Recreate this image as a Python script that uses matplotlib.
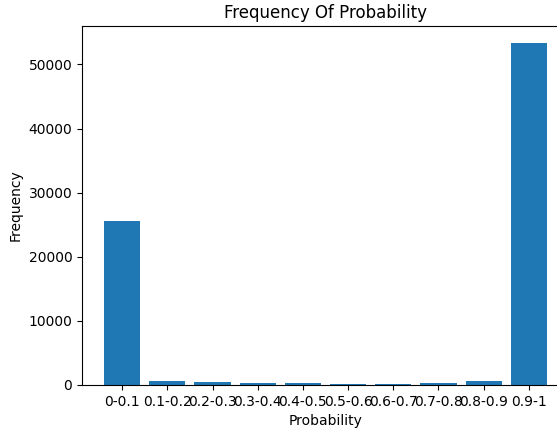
import numpy as np
import matplotlib
matplotlib.use('Agg')
import matplotlib.pyplot as plt

# probability bins and how many samples fell in each
bins = ['0-0.1', '0.1-0.2', '0.2-0.3', '0.3-0.4', '0.4-0.5',
        '0.5-0.6', '0.6-0.7', '0.7-0.8', '0.8-0.9', '0.9-1']
counts = [25600, 700, 400, 250, 250, 100, 100, 250, 600, 53400]

fig = plt.figure(figsize=(5.57, 4.28), dpi=100)
# axes runs past the right edge, like the cropped original
ax = fig.add_axes([82 / 557, 43 / 428, 487 / 557, 359 / 428])

x = np.arange(len(bins))
ax.bar(x, counts, color='#1f77b4')
ax.set_xticks(x)
ax.set_xticklabels(bins)
ax.set_xlim(-0.89, 9.89)
ax.set_ylim(0, 56000)
ax.set_title('Frequency Of Probability')
ax.set_xlabel('Probability')
ax.set_ylabel('Frequency')

fig.savefig('out.png', dpi=100)
